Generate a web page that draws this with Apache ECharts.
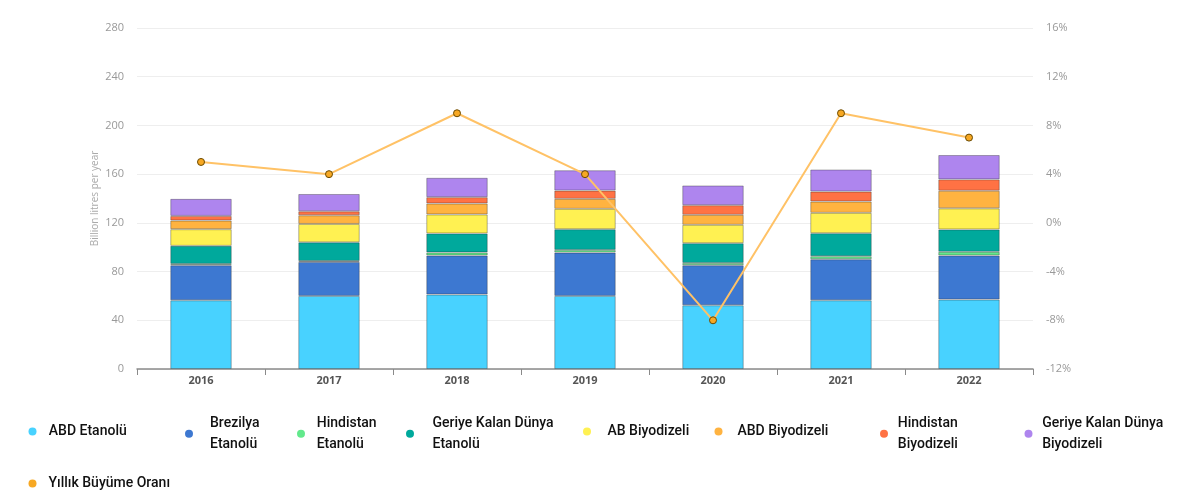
<!DOCTYPE html>
<html>
<head>
<meta charset="utf-8">
<script src="https://cdn.jsdelivr.net/npm/echarts@6/dist/echarts.min.js"></script>
<style>
html,body{margin:0;padding:0;background:#fff;}
#chart{width:1181px;height:496px;}
</style>
</head>
<body>
<div id="chart"></div>
<script>
const years = ['2016','2017','2018','2019','2020','2021','2022'];
const abdEtanol = [56.4, 60.0, 61.1, 60.0, 52.3, 56.4, 57.0];
const brezilyaEtanol = [28.8, 27.9, 32.1, 35.6, 32.9, 33.7, 36.2];
const hindistanEtanol = [1.1, 0.8, 2.5, 2.2, 1.9, 2.5, 3.0];
const geriyeEtanol = [14.8, 15.3, 15.6, 17.0, 16.2, 18.9, 18.4];
const abBiyodizel = [13.7, 15.1, 15.6, 16.7, 15.1, 16.7, 17.3];
const abdBiyodizel = [7.1, 7.1, 9.0, 8.2, 8.2, 9.3, 14.5];
const hindistanBiyodizel = [3.8, 3.3, 5.2, 6.8, 7.9, 8.2, 9.3];
const geriyeBiyodizel = [14.0, 14.2, 15.9, 16.7, 16.2, 18.1, 20.0];
const growthRate = [5, 4, 9, 4, -8, 9, 7];

const leftTicks = {min: 0, max: 280, interval: 40};
const rightTicks = {min: -12, max: 16, interval: 4};

const barSeriesDefs = [
  {name: 'ABD Etanolü', label: 'ABD Etanolü', data: abdEtanol, color: '#48D2FF'},
  {name: 'Brezilya Etanolü', label: 'Brezilya\nEtanolü', data: brezilyaEtanol, color: '#3D78D1'},
  {name: 'Hindistan Etanolü', label: 'Hindistan\nEtanolü', data: hindistanEtanol, color: '#62E98C'},
  {name: 'Geriye Kalan Dünya Etanolü', label: 'Geriye Kalan Dünya\nEtanolü', data: geriyeEtanol, color: '#00A99C'},
  {name: 'AB Biyodizeli', label: 'AB Biyodizeli', data: abBiyodizel, color: '#FFF152'},
  {name: 'ABD Biyodizeli', label: 'ABD Biyodizeli', data: abdBiyodizel, color: '#FFB340'},
  {name: 'Hindistan Biyodizeli', label: 'Hindistan\nBiyodizeli', data: hindistanBiyodizel, color: '#FF7244'},
  {name: 'Geriye Kalan Dünya Biyodizeli', label: 'Geriye Kalan Dünya\nBiyodizeli', data: geriyeBiyodizel, color: '#AE85EE'}
];
const lineDef = {name: 'Yıllık Büyüme Oranı', label: 'Yıllık Büyüme Oranı', color: '#FFC266', symbolColor: '#F7A823'};

const legendFont = 'Roboto, "Liberation Sans", sans-serif';
// legend placement: [left, top, textPad]
const legendPlacement = [
  [28.5, 421, 8.3],
  [185, 412.7, 13],
  [297, 412.7, 7.7],
  [406, 412.7, 14.5],
  [583, 421, 12.5],
  [714.5, 421, 11],
  [880, 412.7, 5.8],
  [1024.5, 412.7, 5.7],
  [28.5, 473, 8]
];
const allDefs = barSeriesDefs.concat([lineDef]);
const legends = allDefs.map((d, i) => ({
  show: true,
  left: legendPlacement[i][0],
  top: legendPlacement[i][1],
  padding: 0,
  itemWidth: 8,
  itemHeight: 9,
  icon: 'circle',
  selectedMode: false,
  data: [{name: d.name, itemStyle: {color: d.symbolColor || d.color, borderWidth: 0}}],
  formatter: () => d.label,
  textStyle: {
    fontFamily: legendFont,
    fontSize: 14,
    fontWeight: 500,
    color: '#111',
    lineHeight: 21,
    padding: [0, 0, 0, legendPlacement[i][2] - 1]
  }
}));

const series = barSeriesDefs.map(d => ({
  name: d.name,
  type: 'bar',
  stack: 'total',
  yAxisIndex: 0,
  barWidth: '48%',
  data: d.data,
  itemStyle: {color: d.color, borderColor: 'rgba(40,40,40,0.35)', borderWidth: 1}
}));
series.push({
  name: lineDef.name,
  type: 'line',
  yAxisIndex: 1,
  data: growthRate,
  symbol: 'circle',
  symbolSize: 7,
  z: 5,
  lineStyle: {color: lineDef.color, width: 2},
  itemStyle: {color: lineDef.symbolColor, borderColor: '#6b4a00', borderWidth: 1}
});

const axisFont = '"Open Sans", "Noto Sans", sans-serif';
const option = {
  animation: false,
  backgroundColor: '#fff',
  grid: {left: 137, right: 148, top: 28, bottom: 127},
  legend: legends,
  xAxis: {
    type: 'category',
    data: years,
    boundaryGap: true,
    axisLine: {lineStyle: {color: '#8a8a8a', width: 1.5}},
    axisTick: {show: true, length: 6, lineStyle: {color: '#8a8a8a'}},
    axisLabel: {color: '#555', fontFamily: axisFont, fontSize: 11, fontWeight: 'bold', margin: 6}
  },
  yAxis: [
    {
      type: 'value',
      min: leftTicks.min, max: leftTicks.max, interval: leftTicks.interval,
      name: 'Billion litres per year',
      nameLocation: 'middle',
      nameGap: 37,
      nameMoveOverlap: false,
      nameTextStyle: {color: '#aaa', fontFamily: axisFont, fontSize: 10},
      axisLine: {show: false},
      axisTick: {show: false},
      axisLabel: {color: '#999', fontFamily: axisFont, fontSize: 11, margin: 13},
      splitLine: {lineStyle: {color: '#eeeeee', width: 1}}
    },
    {
      type: 'value',
      min: rightTicks.min, max: rightTicks.max, interval: rightTicks.interval,
      axisLine: {show: false},
      axisTick: {show: false},
      splitLine: {show: false},
      axisLabel: {color: '#999', fontFamily: axisFont, fontSize: 11, margin: 13, formatter: '{value}%'}
    }
  ],
  series: series
};
const chart = echarts.init(document.getElementById('chart'), null, {renderer: 'canvas'});
chart.setOption(option);
</script>
</body>
</html>
